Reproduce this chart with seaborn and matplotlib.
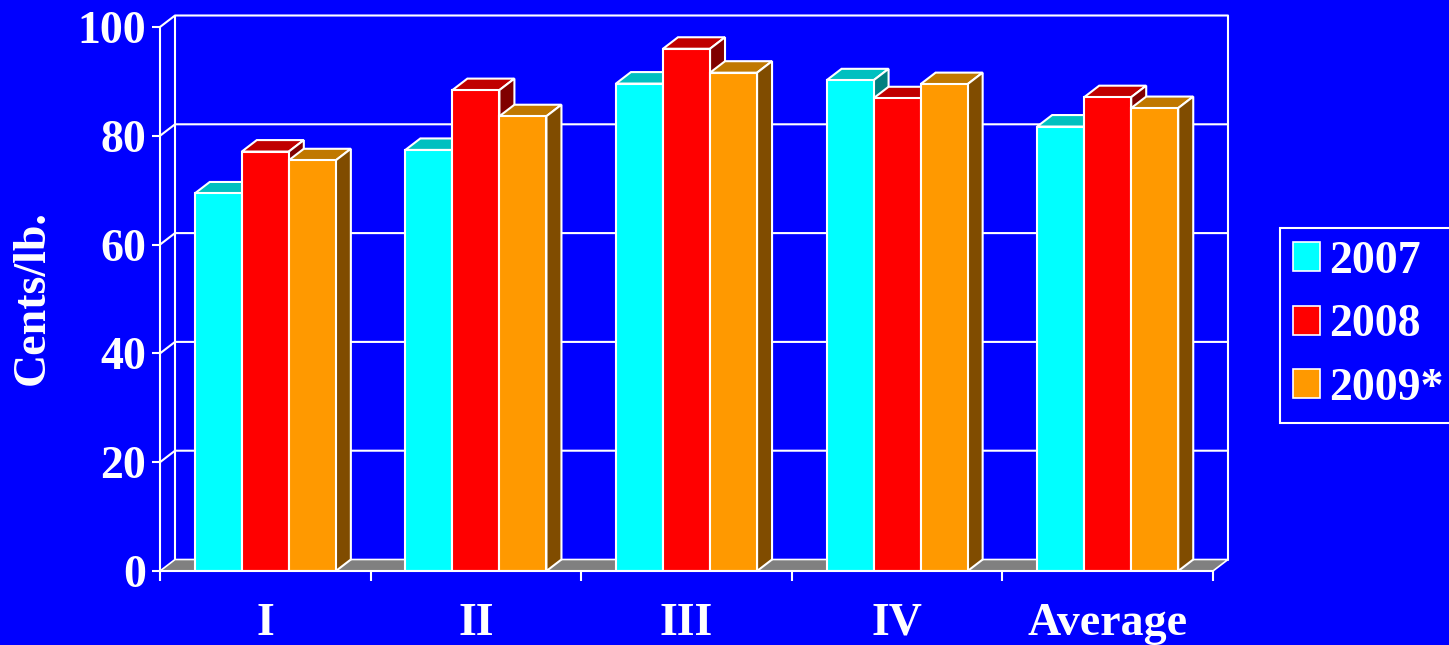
import numpy as np
import pandas as pd
import matplotlib
matplotlib.use("Agg")
import matplotlib.pyplot as plt
from matplotlib.patches import Polygon, Patch
import seaborn as sns

quarters = ['I', 'II', 'III', 'IV', 'Average']
years = ['2007', '2008', '2009*']
v2007 = [69.4, 77.4, 89.6, 90.2, 81.7]
v2008 = [77.1, 88.4, 96.0, 86.9, 87.1]
v2009 = [75.5, 83.6, 91.6, 89.5, 85.1]
yticks = [0, 20, 40, 60, 80, 100]

front = ['#00FFFF', '#FF0000', '#FF9900']
top = ['#00C0C0', '#C00000', '#C07800']
side = ['#008080', '#800000', '#804C00']
bg = '#0000FF'

df = pd.DataFrame({
    'quarter': quarters * 3,
    'year': [y for y in years for _ in quarters],
    'value': v2007 + v2008 + v2009,
})

sns.set_style('white')
plt.rcParams['font.family'] = ['Liberation Serif', 'DejaVu Serif']
plt.rcParams['font.weight'] = 'bold'

W, H = 1449, 645
ax_l, ax_r, ax_b, ax_t = 160, 1213, 571, 27   # front plane in pixels
fig = plt.figure(figsize=(W / 100, H / 100), dpi=100, facecolor=bg)
ax = fig.add_axes([ax_l / W, (H - ax_b) / H, (ax_r - ax_l) / W, (ax_b - ax_t) / H])
ax.set_facecolor('none')

sns.barplot(data=df, x='quarter', y='value', hue='year', palette=front,
            saturation=1, width=0.67, gap=0, edgecolor='white', linewidth=1.5,
            legend=False, ax=ax)

ax.set_xlim(-0.5, 4.5)
ax.set_ylim(0, 100)

# depth offsets in data units
dxu = 15 / ((ax_r - ax_l) / 5)
dyu = 11.5 / ((ax_b - ax_t) / 100)

# back wall, floor
wall_kw = dict(color='white', lw=1.5, clip_on=False, zorder=1)
for v in yticks[1:]:
    ax.plot([-0.5, -0.5 + dxu, 4.5 + dxu], [v, v + dyu, v + dyu], **wall_kw)
ax.plot([-0.5 + dxu, -0.5 + dxu], [dyu, 100 + dyu], **wall_kw)
ax.plot([4.5 + dxu, 4.5 + dxu], [dyu, 100 + dyu], **wall_kw)
floor = Polygon([(-0.5, 0), (4.5, 0), (4.5 + dxu, dyu), (-0.5 + dxu, dyu)],
                closed=True, facecolor='#808080', edgecolor='white', lw=1.2,
                clip_on=False, zorder=1.5)
ax.add_patch(floor)

# 3D faces for each bar
for h, cont in enumerate(ax.containers):
    for bar in cont:
        x0 = bar.get_x()
        w = bar.get_width()
        ht = bar.get_height()
        bar.set_zorder(4 + 2 * h)
        tp = Polygon([(x0, ht), (x0 + w, ht), (x0 + w + dxu, ht + dyu), (x0 + dxu, ht + dyu)],
                     closed=True, facecolor=top[h], edgecolor='white', lw=1.5,
                     zorder=3.5 + 2 * h, clip_on=False)
        sd = Polygon([(x0 + w, 0), (x0 + w + dxu, dyu), (x0 + w + dxu, ht + dyu), (x0 + w, ht)],
                     closed=True, facecolor=side[h], edgecolor='white', lw=1.5,
                     zorder=3.5 + 2 * h, clip_on=False)
        ax.add_patch(tp)
        ax.add_patch(sd)

# axes styling
for s in ['top', 'right']:
    ax.spines[s].set_visible(False)
for s in ['left', 'bottom']:
    ax.spines[s].set_color('white')
    ax.spines[s].set_linewidth(1.5)
    ax.spines[s].set_zorder(20)

ax.set_yticks(yticks)
ax.set_yticklabels([str(t) for t in yticks])
ax.tick_params(axis='y', colors='white', length=6, width=1.5, direction='out',
               labelsize=33, pad=4, left=True)
ax.set_xticks(range(len(quarters)))
ax.set_xticklabels(quarters)
ax.set_xticks(np.arange(-0.5, 5, 1), minor=True)
ax.tick_params(axis='x', which='major', length=0, colors='white', labelsize=33, pad=23)
ax.tick_params(axis='x', which='minor', length=7, width=1.5, colors='white', bottom=True)
for lab in ax.get_xticklabels() + ax.get_yticklabels():
    lab.set_fontweight('bold')
    lab.set_color('white')
ax.set_xlabel('')
ax.set_ylabel('')
fig.text(33 / W, 1 - 298 / H, 'Cents/lb.', rotation=90, ha='center', va='center',
         color='white', fontsize=33, fontweight='bold')

handles = [Patch(facecolor=c, edgecolor='white', lw=1.2) for c in front]
leg = fig.legend(handles, years, loc='upper left',
                 bbox_to_anchor=(1280 / W, 1 - 228 / H),
                 frameon=True, fancybox=False, facecolor=bg, edgecolor='white',
                 framealpha=1, handlelength=0.6, handleheight=0.6,
                 handletextpad=0.2, labelspacing=0.47, borderpad=0.28,
                 borderaxespad=0, prop={'size': 33, 'weight': 'bold'})
leg.get_frame().set_linewidth(1.5)
for t in leg.get_texts():
    t.set_color('white')

fig.savefig('out.png', dpi=100, facecolor=bg)
